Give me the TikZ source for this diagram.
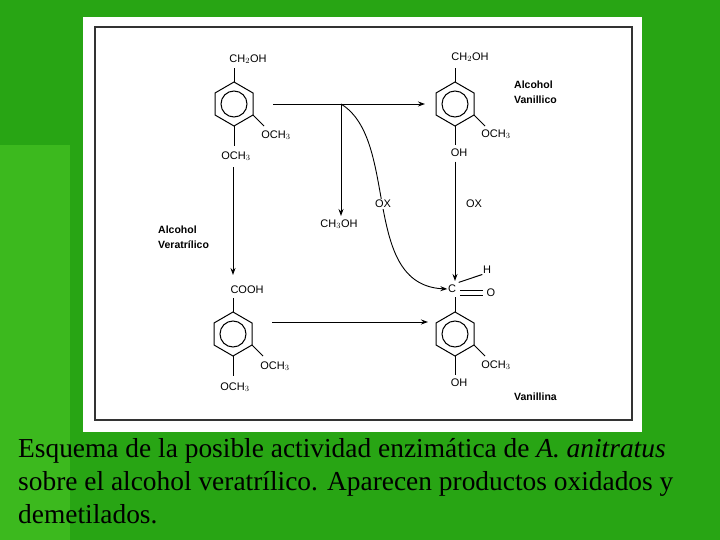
\documentclass[tikz,border=0pt]{standalone}
\usepackage{fontspec}
\setmainfont{Liberation Serif}
\setsansfont{Liberation Sans}
\usetikzlibrary{arrows.meta}
\definecolor{slidegreen}{RGB}{40,165,20}
\definecolor{slidelight}{RGB}{60,185,30}
\tikzset{
  bond/.style={line width=1pt},
  chem/.style={font=\sffamily\fontsize{11}{12}\selectfont, inner sep=0.5pt},
  tag/.style={font=\sffamily\bfseries\fontsize{10.5}{15}\selectfont, align=left, anchor=west, inner sep=0pt},
  rxn/.style={line width=0.9pt, -{Stealth[length=7pt,width=5pt]}},
  caption/.style={font=\fontsize{27.4}{33}\selectfont, anchor=north west, align=left, inner sep=0pt}
}
% benzene ring with centre (#1,#2)
\newcommand{\ring}[2]{%
  \draw[bond] (#1,#2-22) -- (#1+19,#2-11) -- (#1+19,#2+11) -- (#1,#2+22)
    -- (#1-19,#2+11) -- (#1-19,#2-11) -- cycle;
  \draw[bond] (#1,#2) circle (13);}
\begin{document}
\begin{tikzpicture}[x=1pt,y=-1pt]
    \useasboundingbox (0,0) rectangle (720,540);
    % slide background
    \fill[slidegreen] (0,0) rectangle (720,540);
    \fill[slidelight] (0,145) rectangle (70,540);
    \fill[white] (83,17) rectangle (642,432);
    \draw[line width=1.2pt, black!80] (95,27) rectangle (632,420);

    % veratryl alcohol
    \ring{234}{104}
    \draw[bond] (234,82) -- (234,68);
    \node[chem] (vaoh) at (248,59) {CH$_2$OH};
    \draw[bond] (253,115) -- (264,126);
    \node[chem] (vaome3) at (276,135) {OCH$_3$};
    \draw[bond] (234,126) -- (234,146);
    \node[chem] (vaome4) at (236,156) {OCH$_3$};
    \node[tag] (vatag) at (158,237) {Alcohol\\Veratrílico};

    % vanillyl alcohol
    \ring{455}{104}
    \draw[bond] (455,82) -- (455,68);
    \node[chem] (vnoh) at (470,57) {CH$_2$OH};
    \draw[bond] (474,115) -- (485,126);
    \node[chem] (vnome) at (496,134) {OCH$_3$};
    \draw[bond] (455,126) -- (455,145);
    \node[chem] (vnph) at (459,153) {OH};
    \node[tag] (vntag) at (514,92) {Alcohol\\Vanillico};

    % veratric acid
    \ring{233}{334}
    \draw[bond] (233,312) -- (233,298);
    \node[chem] (acid) at (247,290) {COOH};
    \draw[bond] (252,345) -- (263,356);
    \node[chem] (acome3) at (275,366) {OCH$_3$};
    \draw[bond] (233,356) -- (233,376);
    \node[chem] (acome4) at (235,387) {OCH$_3$};

    % vanillin
    \ring{455}{334}
    \draw[bond] (455,312) -- (455,297);
    \node[chem] (cald) at (452,289) {C};
    \node[chem] (hald) at (487,270) {H};
    \node[chem] (oald) at (491,293) {O};
    \draw[bond] (cald.north east) ++(2,-2) -- (hald.south west);
    \draw[bond] (460,290) -- (483,290);
    \draw[bond] (460,295) -- (483,295);
    \draw[bond] (474,345) -- (485,356);
    \node[chem] (vlome) at (496,365) {OCH$_3$};
    \draw[bond] (455,356) -- (455,375);
    \node[chem] (vlph) at (459,383) {OH};
    \node[tag] (vltag) at (514,397) {Vanillina};

    % reactions
    \coordinate (fork) at (341,104);
    \draw[rxn] (273,104) -- (425,104);
    \draw[rxn] (fork) -- (341,216);
    \node[chem] (meoh) at (339,224) {CH$_3$OH};
    \draw[rxn] (fork) .. controls (400,140) and (360,285) .. (cald.west);
    \node[chem, fill=white, inner sep=1pt] (ox1) at (383,204) {OX};
    \draw[rxn] (vnph.south) ++(-4,4) -- (455,281);
    \node[chem] (ox2) at (474,204) {OX};
    \draw[rxn] (vaome4.south) ++(-3,6) -- (233,275);
    \draw[rxn] (272,322) -- (428,322);

    % caption
    \node[caption] (cap) at (18,438) {Esquema de la posible actividad enzimática de \textit{A. anitratus}\\sobre el alcohol veratrílico. Aparecen productos oxidados y\\demetilados.};
\end{tikzpicture}
\end{document}
